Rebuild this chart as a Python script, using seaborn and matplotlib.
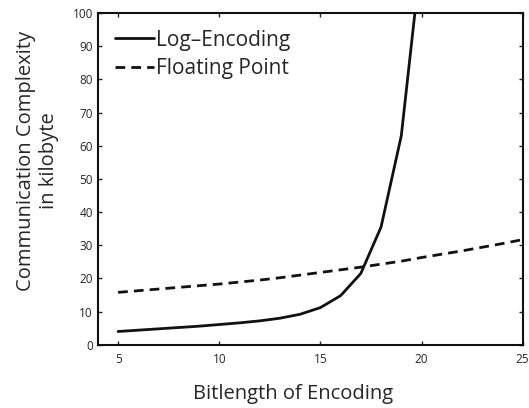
import numpy as np
import pandas as pd
import seaborn as sns
import matplotlib
matplotlib.use('Agg')
import matplotlib.pyplot as plt

# dados
bits = [5, 6, 7, 8, 9, 10, 11, 12, 13, 14, 15, 16, 17, 18, 19, 20, 21, 22, 23, 24, 25]
log_enc = [4.0, 4.4, 4.8, 5.2, 5.6, 6.1, 6.6, 7.2, 8.0, 9.2, 11.2, 14.8, 21.5, 35.5, 63.0, 118.0,
           None, None, None, None, None]
float_pt = [15.8, 16.3, 16.8, 17.3, 17.8, 18.3, 18.9, 19.5, 20.2, 21.0, 21.8, 22.6, 23.4, 24.3,
            25.2, 26.3, 27.3, 28.3, 29.4, 30.5, 31.7]

df = pd.DataFrame({'bits': bits, 'Log\u2013Encoding': log_enc, 'Floating Point': float_pt})
df_long = df.melt(id_vars='bits', var_name='serie', value_name='kb').dropna()

sns.set_style('ticks')
plt.rcParams['font.family'] = ['Open Sans', 'DejaVu Sans']

fig, ax = plt.subplots(figsize=(5.29, 4.08), dpi=100)
sns.lineplot(data=df_long, x='bits', y='kb', style='serie', color='#111111',
             dashes={'Log\u2013Encoding': '', 'Floating Point': (3.5, 2.2)},
             linewidth=2, ax=ax)

ax.set_xlim(4, 25)
ax.set_ylim(0, 100)
ax.set_xticks([5, 10, 15, 20, 25])
ax.set_yticks(range(0, 101, 10))
ax.tick_params(direction='in', top=True, right=True, labelsize=8.5, length=3, width=1)
ax.tick_params(axis='x', pad=6)
for s in ax.spines.values():
    s.set_linewidth(1.5)
    s.set_color('#111111')

ax.set_xlabel('Bitlength of Encoding', fontsize=14.5, labelpad=13)
ax.set_ylabel('Communication Complexity\nin kilobyte', fontsize=14.5, labelpad=10)
ax.xaxis.label.set_x(0.46)  # rotulos levemente deslocados como no original
ax.yaxis.label.set_y(0.555)

leg = ax.legend(loc='upper left', frameon=False, fontsize=15, handlelength=1.9,
                handletextpad=0.1, borderaxespad=0.4, labelspacing=0.35)
for line in leg.get_lines():
    line.set_linewidth(2)

fig.subplots_adjust(left=0.185, right=0.988, top=0.968, bottom=0.155)
fig.savefig('out.png', dpi=100)
